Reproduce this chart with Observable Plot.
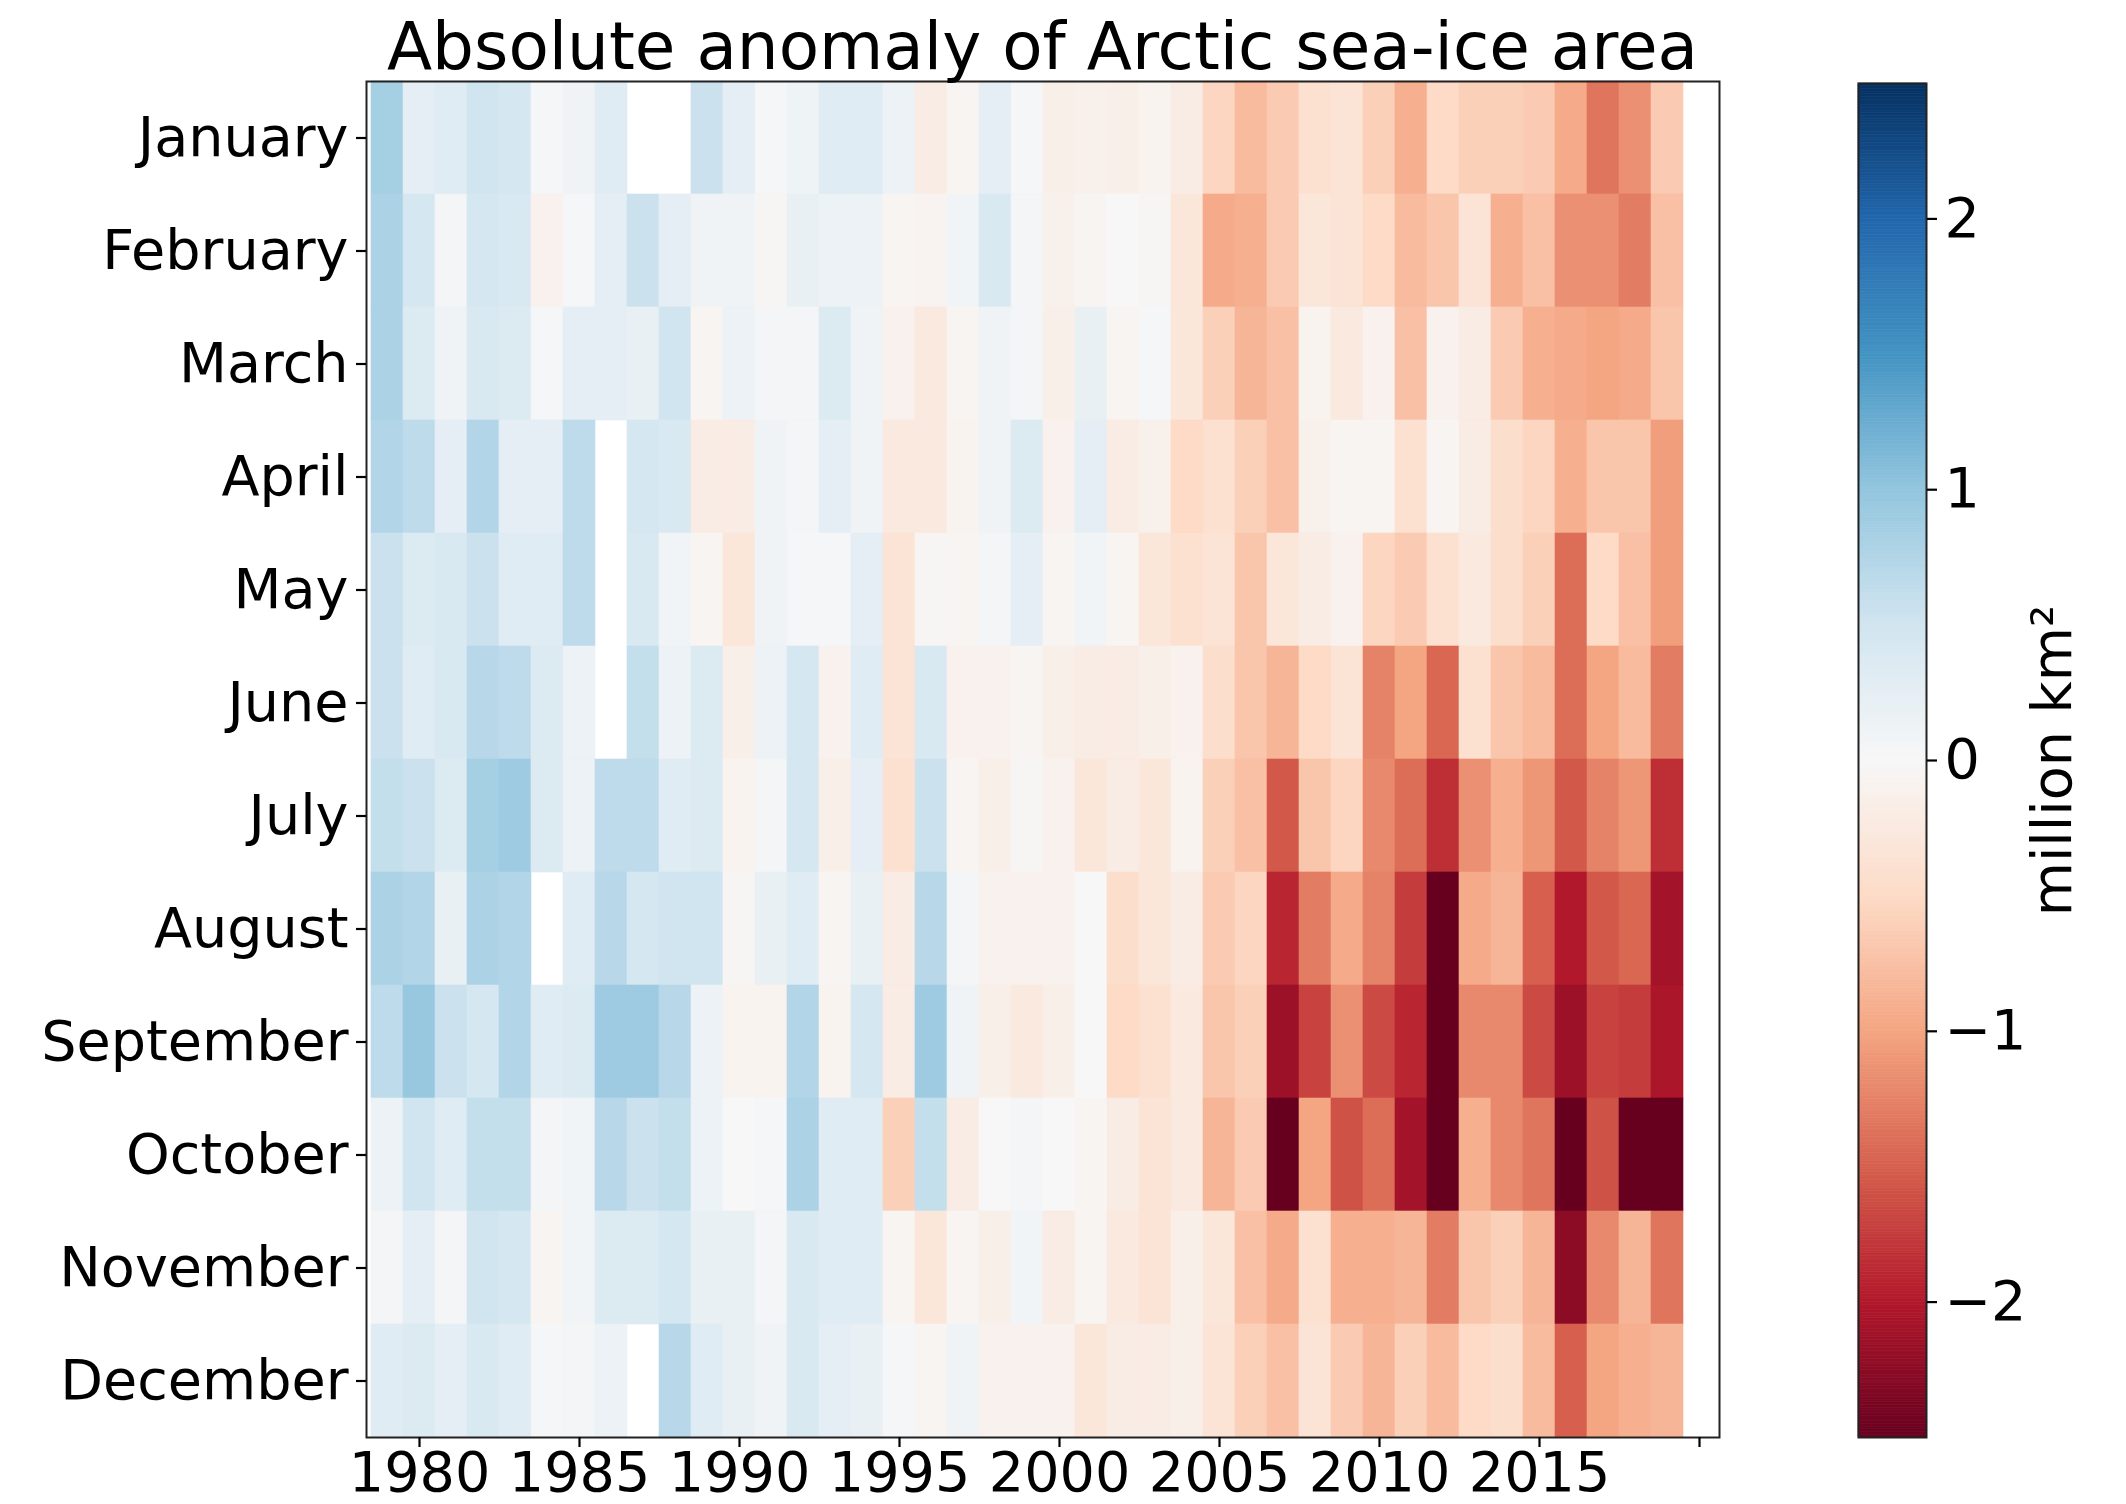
<!DOCTYPE html>
<html>
<head>
<meta charset="utf-8">
<script src="https://cdn.jsdelivr.net/npm/d3@7"></script>
<script src="https://cdn.jsdelivr.net/npm/@observablehq/plot@0.6"></script>
<style>
  html, body { margin: 0; padding: 0; background: white; }
  #wrap { position: relative; width: 2126px; height: 1504px; background: white; overflow: hidden; }
  #title { position: absolute; left: 366px; width: 1353px; top: 14px; text-align: center;
           font-family: "DejaVu Sans", sans-serif; font-size: 66px; line-height: 66px; color: black; white-space: nowrap; }
  #main { position: absolute; left: 0; top: 0; }
  #cbar { position: absolute; left: 1780px; top: 0; }
</style>
</head>
<body>
<div id="wrap">
  <div id="main"></div>
  <div id="cbar"></div>
  <div id="title">Absolute anomaly of Arctic sea-ice area</div>
</div>
<script>
// ---- categories ----
const years = [1979,1980,1981,1982,1983,1984,1985,1986,1987,1988,1989,1990,1991,1992,1993,1994,1995,1996,1997,1998,1999,
               2000,2001,2002,2003,2004,2005,2006,2007,2008,2009,2010,2011,2012,2013,2014,2015,2016,2017,2018,2019,2020];
const months = ["January","February","March","April","May","June","July","August","September","October","November","December"];
const xTicks = [1980,1985,1990,1995,2000,2005,2010,2015,2020];
const xTickLabels = ["1980","1985","1990","1995","2000","2005","2010","2015",""];
const cbarTicks = [-2,-1,0,1,2];

// ---- anomaly values (million km²), 1979..2020, null = no data ----
const jan = [0.85,0.25,0.3,0.5,0.45,0.02,0.1,0.3,null,null,0.55,0.25,0.03,0.12,
             0.3,0.3,0.15,-0.2,-0.05,0.25,0.03,-0.15,-0.12,-0.15,-0.08,-0.2,-0.55,-0.8,
             -0.65,-0.4,-0.35,-0.6,-0.9,-0.5,-0.6,-0.6,-0.65,-0.95,-1.35,-1.15,-0.65,null];
const feb = [0.8,0.45,0.05,0.45,0.4,-0.1,0.03,0.25,0.55,0.25,0.1,0.1,-0.03,0.2,
             0.15,0.15,-0.05,-0.07,0.08,0.4,0.05,-0.12,-0.05,0.0,-0.03,-0.3,-0.95,-0.9,
             -0.65,-0.3,-0.35,-0.5,-0.8,-0.7,-0.35,-0.9,-0.75,-1.15,-1.15,-1.3,-0.75,null];
const mar = [0.8,0.35,0.1,0.4,0.35,0.03,0.25,0.25,0.2,0.5,-0.05,0.15,0.05,0.05,
             0.35,0.1,-0.1,-0.25,-0.05,0.1,0.05,-0.15,0.2,-0.05,0.03,-0.3,-0.6,-0.85,
             -0.75,-0.08,-0.25,-0.1,-0.75,-0.1,-0.2,-0.65,-0.9,-0.95,-1.0,-0.95,-0.7,null];
const apr = [0.75,0.65,0.25,0.75,0.25,0.25,0.65,null,0.45,0.4,-0.2,-0.2,0.1,0.05,
             0.25,0.1,-0.25,-0.25,-0.08,0.1,0.35,-0.1,0.25,-0.2,-0.12,-0.5,-0.4,-0.6,
             -0.75,-0.12,-0.05,-0.05,-0.4,-0.05,-0.2,-0.45,-0.55,-0.9,-0.7,-0.7,-1.05,null];
const may = [0.55,0.35,0.4,0.55,0.3,0.3,0.65,null,0.4,0.08,-0.05,-0.3,0.1,0.02,
             0.03,0.25,-0.35,-0.03,-0.05,0.05,0.25,-0.05,0.08,-0.05,-0.3,-0.4,-0.35,-0.7,
             -0.3,-0.2,-0.1,-0.55,-0.65,-0.4,-0.25,-0.45,-0.6,-1.4,-0.5,-0.75,-1.05,null];
const jun = [0.55,0.3,0.4,0.7,0.65,0.35,0.15,null,0.6,0.15,0.35,-0.15,0.15,0.45,
             -0.1,0.3,-0.35,0.4,-0.1,-0.1,-0.05,-0.15,-0.2,-0.2,-0.15,-0.1,-0.45,-0.7,
             -0.85,-0.5,-0.35,-1.25,-1.0,-1.45,-0.4,-0.7,-0.8,-1.4,-1.0,-0.8,-1.3,null];
const jul = [0.6,0.55,0.35,0.85,0.9,0.35,0.15,0.65,0.65,0.3,0.35,-0.08,0.05,0.45,
             -0.15,0.25,-0.4,0.55,-0.05,-0.15,-0.03,-0.1,-0.3,-0.2,-0.3,-0.08,-0.6,-0.75,
             -1.55,-0.7,-0.55,-1.2,-1.4,-1.85,-1.15,-0.9,-1.1,-1.55,-1.25,-1.1,-1.85,null];
const aug = [0.8,0.75,0.2,0.8,0.75,null,0.3,0.7,0.45,0.5,0.5,-0.03,0.2,0.3,
             -0.05,0.2,-0.2,0.7,0.05,-0.1,-0.1,-0.1,0.0,-0.45,-0.3,-0.2,-0.65,-0.55,
             -1.9,-1.3,-0.95,-1.25,-1.75,-2.5,-0.95,-0.85,-1.5,-2.0,-1.55,-1.45,-2.1,null];
const sep = [0.65,0.95,0.55,0.45,0.75,0.3,0.35,0.9,0.9,0.7,0.15,-0.08,-0.08,0.75,
             -0.08,0.45,-0.2,0.9,0.1,-0.15,-0.25,-0.15,0.0,-0.5,-0.4,-0.25,-0.7,-0.6,
             -2.15,-1.7,-1.15,-1.65,-1.9,-2.7,-1.2,-1.2,-1.65,-2.15,-1.7,-1.75,-2.05,null];
const oct = [0.15,0.5,0.3,0.6,0.6,0.05,0.08,0.7,0.55,0.6,0.15,0.0,0.03,0.8,
             0.3,0.3,-0.6,0.6,-0.2,0.0,0.05,0.0,-0.05,-0.2,-0.35,-0.25,-0.85,-0.65,
             -2.6,-1.0,-1.6,-1.4,-2.1,-2.6,-0.9,-1.2,-1.35,-2.7,-1.6,-2.5,-2.7,null];
const nov = [0.05,0.25,0.05,0.5,0.45,-0.05,0.08,0.35,0.35,0.45,0.2,0.2,0.05,0.4,
             0.3,0.3,-0.05,-0.3,-0.05,-0.15,0.08,-0.2,-0.05,-0.25,-0.35,-0.15,-0.3,-0.75,
             -0.95,-0.4,-0.9,-0.9,-0.85,-1.3,-0.7,-0.6,-0.85,-2.25,-1.2,-0.85,-1.35,null];
const dec = [0.3,0.35,0.25,0.4,0.3,0.03,0.05,0.15,null,0.7,0.3,0.2,0.1,0.4,
             0.25,0.2,0.02,-0.05,0.1,-0.1,-0.1,-0.1,-0.3,-0.2,-0.2,-0.15,-0.35,-0.6,
             -0.75,-0.35,-0.65,-0.85,-0.6,-0.8,-0.5,-0.45,-0.8,-1.5,-1.0,-0.9,-0.85,null];

// ---- colour map (matplotlib RdBu, vmin -2.5, vmax 2.5) ----
const cmapStops = [-2.5,-2,-1.5,-1,-0.5,0,0.5,1,1.5,2,2.5];
const cmapColors = ["#67001f","#b2182b","#d6604d","#f4a582","#fddbc7","#f7f7f7","#d1e5f0","#92c5de","#4393c3","#2166ac","#053061"];

const monthValues = [jan,feb,mar,apr,may,jun,jul,aug,sep,oct,nov,dec];
const cells = [];
monthValues.forEach((arr, i) => arr.forEach((v, j) => {
  if (v !== null) cells.push({year: years[j], month: months[i], value: v});
}));

const colorScale = {type: "linear", domain: cmapStops, range: cmapColors, interpolate: "rgb", clamp: true};
const font = {fontFamily: "DejaVu Sans, sans-serif", fontSize: "55.6px", color: "black", background: "white", overflow: "visible"};
const minus = d => d < 0 ? "\u2212" + Math.abs(d) : String(d);

const main = Plot.plot({
  width: 1780, height: 1504,
  marginLeft: 366, marginRight: 61, marginTop: 81, marginBottom: 67,
  style: font,
  x: {type: "band", domain: years, padding: 0},
  y: {type: "band", domain: months, padding: 0},
  color: colorScale,
  marks: [
    Plot.cell(cells, {x: "year", y: "month", fill: "value", stroke: "value", strokeWidth: 0.6}),
    Plot.frame({stroke: "#222", strokeWidth: 2}),
    Plot.axisX({ticks: xTicks, tickFormat: d => xTickLabels[xTicks.indexOf(d)], tickSize: 10, tickPadding: 4, strokeWidth: 2.2, label: null}),
    Plot.axisY({tickSize: 10, tickPadding: 8, strokeWidth: 2.2, label: null})
  ]
});
document.getElementById("main").appendChild(main);

const steps = d3.range(0, 500).map(i => -2.5 + i * 0.01);
const cbar = Plot.plot({
  width: 346, height: 1504,
  marginLeft: 78, marginRight: 200, marginTop: 83, marginBottom: 67,
  style: font,
  y: {domain: [-2.5, 2.5]},
  color: colorScale,
  marks: [
    Plot.rectY(steps, {y1: d => d, y2: d => d + 0.01, fill: d => d + 0.005, stroke: d => d + 0.005, strokeWidth: 0.6}),
    Plot.frame({stroke: "#222", strokeWidth: 2}),
    Plot.axisY({anchor: "right", ticks: cbarTicks, tickFormat: minus, tickSize: 10, tickPadding: 8, strokeWidth: 2.2, label: null}),
    Plot.text(["million km\u00b2"], {text: d => d, frameAnchor: "right", textAnchor: "middle", rotate: -90, dx: 127})
  ]
});
document.getElementById("cbar").appendChild(cbar);
</script>
</body>
</html>
